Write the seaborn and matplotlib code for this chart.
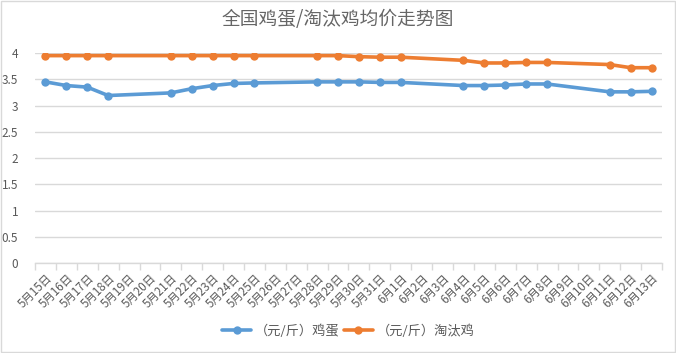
import numpy as np
import pandas as pd
import matplotlib
matplotlib.use('Agg')
import matplotlib.pyplot as plt
import seaborn as sns

# Date categories (5月15日 .. 6月13日), prices only on trading days
dates = [f"5月{d}日" for d in range(15, 32)] + [f"6月{d}日" for d in range(1, 14)]

nan = np.nan
egg = [3.45, 3.38, 3.35, 3.19, nan, nan, 3.24, 3.32, 3.38, 3.42,
       3.43, nan, nan, 3.45, 3.45, 3.45, 3.44, 3.44, nan, nan,
       3.38, 3.38, 3.39, 3.41, 3.41, nan, nan, 3.26, 3.26, 3.27]
hen = [3.95, 3.95, 3.95, 3.95, nan, nan, 3.95, 3.95, 3.95, 3.95,
       3.95, nan, nan, 3.95, 3.95, 3.93, 3.92, 3.92, nan, nan,
       3.86, 3.81, 3.81, 3.82, 3.82, nan, nan, 3.78, 3.72, 3.72]

series_names = ["（元/斤）鸡蛋", "（元/斤）淘汰鸡"]
colors = ["#5B9BD5", "#ED7D31"]

df = pd.DataFrame({
    'pos': list(range(len(dates))) * 2,
    'price': egg + hen,
    'series': [series_names[0]] * len(dates) + [series_names[1]] * len(dates),
})

sns.set_theme(style='white')
plt.rcParams['font.family'] = ['Noto Sans CJK SC', 'DejaVu Sans']

fig = plt.figure(figsize=(6.76, 3.53), dpi=100)
ax = fig.add_axes([35 / 676, 90 / 353, 627 / 676, 210 / 353])

sns.lineplot(data=df, x='pos', y='price', hue='series', palette=colors,
             marker='o', markersize=6, markeredgewidth=0, linewidth=2.6,
             ax=ax, legend=True)

grey = '#595959'
ax.set_xlim(-0.5, len(dates) - 0.5)
ax.set_ylim(0, 4)
ax.set_yticks(np.arange(0, 4.01, 0.5))
ax.set_yticklabels(['0', '0.5', '1', '1.5', '2', '2.5', '3', '3.5', '4'])
ax.yaxis.grid(True, color='#d9d9d9', linewidth=1)
ax.xaxis.grid(False)
ax.set_xlabel('')
ax.set_ylabel('')

ax.set_xticks(range(len(dates)))
ax.set_xticklabels(dates, rotation=45, ha='right', rotation_mode='anchor')
ax.set_xticks(np.arange(-0.5, len(dates), 1), minor=True)
ax.tick_params(axis='x', which='major', length=0, pad=6, labelsize=8.3, labelcolor=grey)
ax.tick_params(axis='x', which='minor', length=5, color='#d9d9d9', width=1, direction='out', bottom=True)
ax.tick_params(axis='y', length=0, labelsize=8.5, labelcolor=grey, pad=12)

for side in ['top', 'right', 'left']:
    ax.spines[side].set_visible(False)
ax.spines['bottom'].set_color('#d9d9d9')
ax.spines['bottom'].set_linewidth(1)

fig.suptitle('全国鸡蛋/淘汰鸡均价走势图', x=0.5, y=0.975, fontsize=13.5,
             color='#666666', fontweight='light')

leg = ax.legend(loc='center', bbox_to_anchor=(0.5, (263 - 331) / 210),
                ncol=2, frameon=False, fontsize=9.5, handlelength=2.2,
                handletextpad=0.3, columnspacing=0.3)
for t in leg.get_texts():
    t.set_color(grey)

fig.patches.append(plt.Rectangle((0.002, 0.003), 0.996, 0.994, transform=fig.transFigure,
                                 fill=False, edgecolor='#d9d9d9', linewidth=1))

fig.savefig('out.png', dpi=100)
